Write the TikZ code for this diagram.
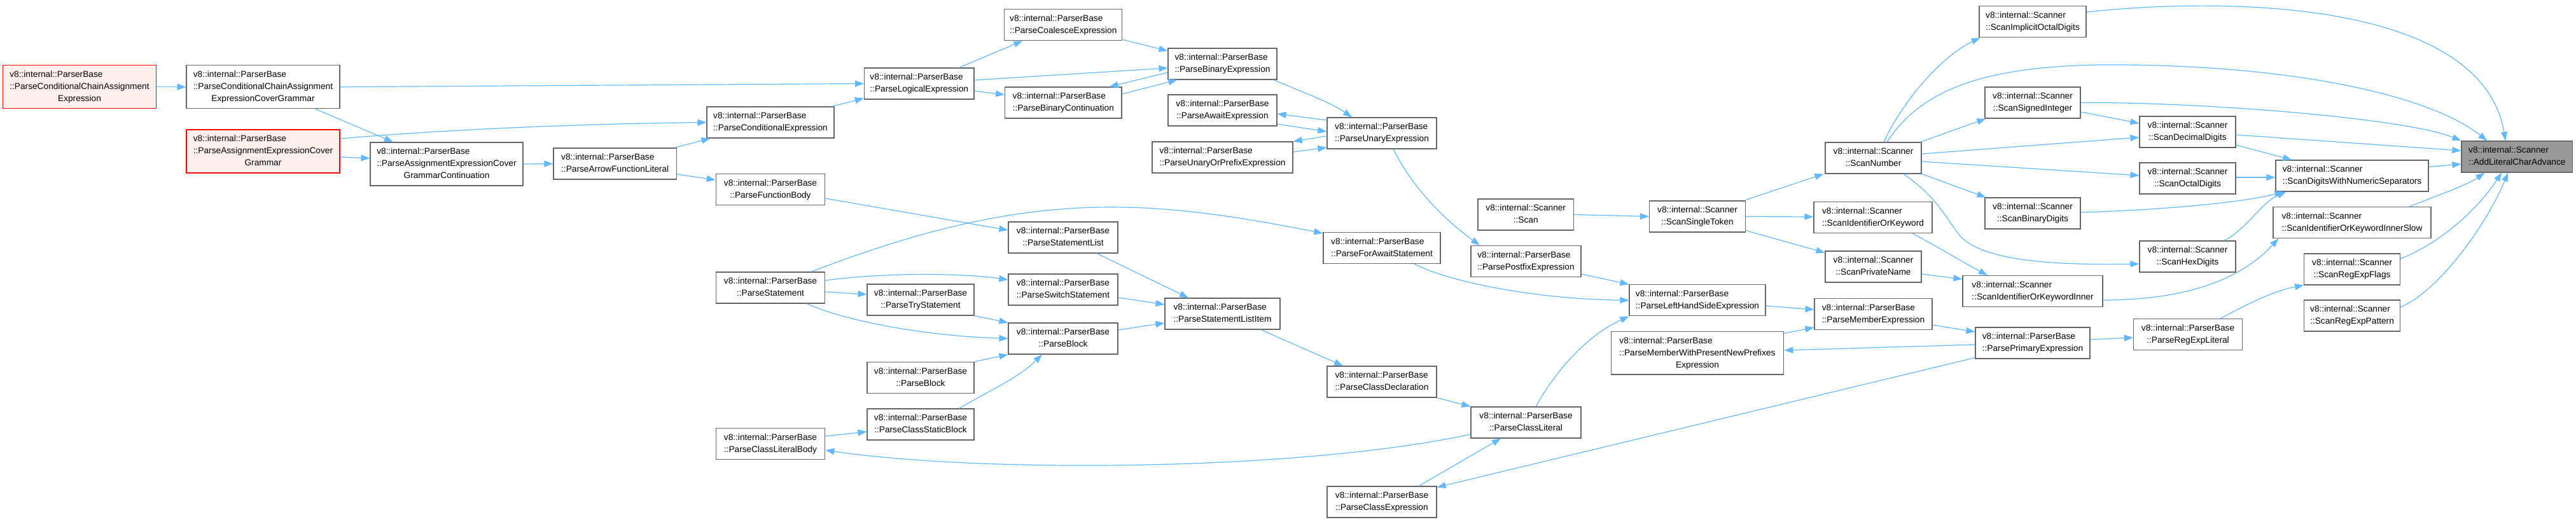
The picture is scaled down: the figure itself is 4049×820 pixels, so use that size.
\documentclass[tikz,border=0pt]{standalone}
\usepackage{fontspec}
\setmainfont{Liberation Sans}
\usetikzlibrary{arrows.meta,calc}
\definecolor{edgeblue}{HTML}{63B8FF}
\definecolor{boxgray}{HTML}{666666}
\definecolor{rootgray}{HTML}{999999}
\definecolor{pinkfill}{HTML}{FFF0F0}
\newcommand{\lbl}[2]{\begin{tabular}{@{}l@{}}#1\\\multicolumn{1}{@{}c@{}}{#2}\end{tabular}}
\newcommand{\lblt}[3]{\begin{tabular}{@{}l@{}}#1\\#2\\\multicolumn{1}{@{}c@{}}{#3}\end{tabular}}
\newcommand{\PB}[1]{\lbl{v8::internal::ParserBase}{::#1}}
\newcommand{\SC}[1]{\lbl{v8::internal::Scanner}{::#1}}
\tikzset{
  nb/.style={draw=boxgray, fill=white, line width=1.2pt, inner sep=0pt, minimum height=49, font=\fontsize{13.7}{19}\selectfont},
  nbt/.style={nb, minimum height=68},
  rednode/.style={draw=red, fill=pinkfill},
  rootnode/.style={fill=rootgray},
  edg/.style={draw=edgeblue, line width=1.2pt, -{Triangle[length=14pt,width=10pt]}},
}
\begin{document}
\begin{tikzpicture}[x=1pt,y=-1pt]
\useasboundingbox (0,0) rectangle (4049,820);
% nodes
\node[nbt,rednode,minimum width=241] (N1) at (125,136.7) {\lblt{v8::internal::ParserBase}{::ParseConditionalChainAssignment}{Expression}};
\node[nbt,minimum width=241] (N2) at (413.5,136.7) {\lblt{v8::internal::ParserBase}{::ParseConditionalChainAssignment}{ExpressionCoverGrammar}};
\node[nbt,rednode,minimum width=241] (N3) at (413.5,238) {\lblt{v8::internal::ParserBase}{::ParseAssignmentExpressionCover}{Grammar}};
\node[nbt,minimum width=240] (N4) at (702,258) {\lblt{v8::internal::ParserBase}{::ParseAssignmentExpressionCover}{GrammarContinuation}};
\node[nb,minimum width=193.5] (N5) at (966.7,257.5) {\PB{ParseArrowFunctionLiteral}};
\node[nb,minimum width=200] (N6) at (1211,192.5) {\PB{ParseConditionalExpression}};
\node[nb,minimum width=171.5] (N7) at (1211,298) {\PB{ParseFunctionBody}};
\node[nb,minimum width=172.5] (N8) at (1444.7,131.5) {\PB{ParseLogicalExpression}};
\node[nb,minimum width=185] (N9) at (1671.3,39.2) {\PB{ParseCoalesceExpression}};
\node[nb,minimum width=171] (N10) at (1921.5,100.5) {\PB{ParseBinaryExpression}};
\node[nb,minimum width=183.4] (N11) at (1671.3,161.5) {\PB{ParseBinaryContinuation}};
\node[nb,minimum width=171] (N12) at (1921.5,173.5) {\PB{ParseAwaitExpression}};
\node[nb,minimum width=221] (N13) at (1921.5,247.5) {\PB{ParseUnaryOrPrefixExpression}};
\node[nb,minimum width=172] (N14) at (1671,373.5) {\PB{ParseStatementList}};
\node[nb,minimum width=172] (N15) at (2172,209.5) {\PB{ParseUnaryExpression}};
\node[nb,minimum width=150.5] (N16) at (2398.2,337.5) {\SC{Scan}};
\node[nb,minimum width=151] (N17) at (2668,340.5) {\SC{ScanSingleToken}};
\node[nb,minimum width=184] (N18) at (2172,390) {\PB{ParseForAwaitStatement}};
\node[nb,minimum width=173] (N19) at (2398.5,411) {\PB{ParsePostfixExpression}};
\node[nb,minimum width=214] (N20) at (2668,472.3) {\PB{ParseLeftHandSideExpression}};
\node[nbt,minimum width=271.6,minimum height=67.3] (N21) at (2668,555.3) {\lblt{v8::internal::ParserBase}{::ParseMemberWithPresentNewPrefixes}{Expression}};
\node[nb,minimum width=172] (N22) at (2172,600.5) {\PB{ParseClassDeclaration}};
\node[nb,minimum width=173] (N23) at (2398.5,664.5) {\PB{ParseClassLiteral}};
\node[nb,minimum width=172] (N24) at (2172,789.5) {\PB{ParseClassExpression}};
\node[nb,minimum width=171.5] (N25) at (1211,452.5) {\PB{ParseStatement}};
\node[nb,minimum width=171.5] (N26) at (1211,698) {\PB{ParseClassLiteralBody}};
\node[nb,minimum width=172] (N27) at (1671,455.5) {\PB{ParseSwitchStatement}};
\node[nb,minimum width=168] (N28) at (1447,471.5) {\PB{ParseTryStatement}};
\node[nb,minimum width=172] (N29) at (1671,532.5) {\PB{ParseBlock}};
\node[nb,minimum width=181] (N30) at (1921.5,493.5) {\PB{ParseStatementListItem}};
\node[nb,minimum width=168] (N31) at (1447,594) {\PB{ParseBlock}};
\node[nb,minimum width=168] (N32) at (1447,667.5) {\PB{ParseClassStaticBlock}};
\node[nb,minimum width=168] (N33) at (3195,34) {\SC{ScanImplicitOctalDigits}};
\node[nb,minimum width=150] (N34) at (3195,161.5) {\SC{ScanSignedInteger}};
\node[nb,minimum width=151] (N35) at (2944.5,248.5) {\SC{ScanNumber}};
\node[nb,minimum width=151] (N36) at (3438.5,207.5) {\SC{ScanDecimalDigits}};
\node[nb,minimum width=151] (N37) at (3438.5,280.5) {\SC{ScanOctalDigits}};
\node[nb,minimum width=150] (N38) at (3195,335.5) {\SC{ScanBinaryDigits}};
\node[nb,minimum width=186] (N39) at (2944,342) {\SC{ScanIdentifierOrKeyword}};
\node[nb,minimum width=151] (N40) at (2944.5,419.5) {\SC{ScanPrivateName}};
\node[nb,minimum width=151] (N41) at (3438.5,403.5) {\SC{ScanHexDigits}};
\node[nb,minimum width=220] (N42) at (3195,458) {\SC{ScanIdentifierOrKeywordInner}};
\node[nb,minimum width=185] (N43) at (2944.5,494) {\PB{ParseMemberExpression}};
\node[nb,minimum width=180] (N44) at (3195,539.5) {\PB{ParsePrimaryExpression}};
\node[nb,minimum width=171] (N45) at (3439,526) {\PB{ParseRegExpLiteral}};
\node[nb,rootnode,minimum width=174.6] (N46) at (3956.3,246.5) {\SC{AddLiteralCharAdvance}};
\node[nb,minimum width=240] (N47) at (3697,276.5) {\SC{ScanDigitsWithNumericSeparators}};
\node[nb,minimum width=248] (N48) at (3697,350) {\SC{ScanIdentifierOrKeywordInnerSlow}};
\node[nb,minimum width=150.5] (N49) at (3697,423.5) {\SC{ScanRegExpFlags}};
\node[nb,minimum width=150.5] (N50) at (3697,496.5) {\SC{ScanRegExpPattern}};
% edges
\draw[edg] (N1.east) -- (N2.west);
\draw[edg] (N2.east) -- (N8.west);
\draw[edg] ($(N2.south)+(82,0)$) -- ($(N4.north)+(-84,0)$);
\draw[edg] ($(N3.east)+(0,-20)$) .. controls (700,204) and (900,195) .. (N6.west);
\draw[edg] ($(N3.east)+(0,9)$) -- ($(N4.west)+(0,-9)$);
\draw[edg] (N4.east) -- (N5.west);
\draw[edg] ($(N5.north east)+(-4,0)$) -- ($(N6.south west)+(6,0)$);
\draw[edg] ($(N6.north east)+(-4,0)$) -- ($(N8.south west)+(0,-2)$);
\draw[edg] ($(N5.east)+(0,16.5)$) -- ($(N7.west)+(0,-15)$);
\draw[edg] ($(N7.east)+(0,14)$) -- ($(N14.west)+(0,-11.5)$);
\draw[edg] ($(N25.north east)+(-22,0)$) .. controls (1615,296) and (1800,312) .. ($(N18.north west)+(0,2)$);
\draw[edg] ($(N25.east)+(0,-11.5)$) .. controls (1380,430) and (1500,428) .. ($(N27.west)+(0,-15.5)$);
\draw[edg] ($(N25.east)+(0,6.5)$) -- ($(N28.west)+(0,-8.5)$);
\draw[edg] ($(N25.south)+(57,0)$) .. controls (1330,505) and (1450,528) .. (N29.west);
\draw[edg] ($(N26.east)+(0,-12)$) -- ($(N32.west)+(0,11.5)$);
\draw[edg] ($(N23.west)+(0,18.5)$) .. controls (2050,740) and (1550,745) .. ($(N26.east)+(0,10)$);
\draw[edg] ($(N8.north east)+(-24,0)$) -- ($(N9.south west)+(29,0)$);
\draw[edg] ($(N8.east)+(0,-5.5)$) -- ($(N10.west)+(0,6.5)$);
\draw[edg] ($(N8.east)+(0,11.5)$) -- ($(N11.west)+(0,-12.5)$);
\draw[edg] ($(N9.south east)+(0,-2)$) -- ($(N10.west)+(0,-20.5)$);
\draw[edg] ($(N10.west)+(0,13.5)$) -- ($(N11.north east)+(-20,0)$);
\draw[edg] ($(N11.east)+(0,-13.5)$) -- ($(N10.south west)+(15,0)$);
\draw[edg] ($(N10.south east)+(-6,0)$) .. controls (2035,140) and (2090,160) .. ($(N15.north)+(-47,0)$);
\draw[edg] ($(N15.west)+(0,-20.5)$) -- ($(N12.east)+(0,5.5)$);
\draw[edg] ($(N12.east)+(0,21.5)$) -- ($(N15.west)+(0,-2.5)$);
\draw[edg] ($(N15.west)+(0,4.5)$) -- (N13.north east);
\draw[edg] ($(N13.east)+(0,-8.5)$) -- ($(N15.west)+(0,22.5)$);
\draw[edg] ($(N15.south)+(18,0)$) .. controls (2220,295) and (2270,345) .. ($(N19.north)+(-72.5,0)$);
\draw[edg] ($(N14.south)+(53,0)$) -- ($(N30.north)+(-53.5,0)$);
\draw[edg] ($(N27.east)+(0,12.5)$) -- ($(N30.west)+(0,-14.5)$);
\draw[edg] (N28.south east) -- (N29.north west);
\draw[edg] (N31.north east) -- (N29.south west);
\draw[edg] ($(N32.north)+(60.5,0)$) .. controls (1550,617) and (1600,595) .. ($(N29.south)+(-33,0)$);
\draw[edg] ($(N29.east)+(0,-13.5)$) -- ($(N30.west)+(0,14.5)$);
\draw[edg] ($(N30.south)+(60.5,0)$) -- ($(N22.north)+(-61,0)$);
\draw[edg] ($(N18.south)+(51,0)$) .. controls (2270,440) and (2400,470) .. (N20.west);
\draw[edg] ($(N19.east)+(0,20)$) -- (N20.north west);
\draw[edg] (N22.south east) -- (N23.north west);
\draw[edg] ($(N23.north)+(15.5,0)$) .. controls (2450,575) and (2500,525) .. (N20.south west);
\draw[edg] ($(N24.north)+(58,0)$) -- ($(N23.south)+(-39.5,0)$);
\draw[edg] ($(N44.south west)+(0,-2)$) -- ($(N24.north east)+(0,2)$);
\draw[edg] ($(N20.east)+(0,8.7)$) -- ($(N43.west)+(0,-7)$);
\draw[edg] ($(N21.north east)+(0,3.3)$) -- ($(N43.south west)+(0,-4)$);
\draw[edg] ($(N43.east)+(0,17)$) -- ($(N44.west)+(0,-17.5)$);
\draw[edg] ($(N44.west)+(0,2.5)$) -- ($(N21.east)+(0,-4.3)$);
\draw[edg] ($(N40.east)+(0,11.5)$) -- ($(N42.west)+(0,-19)$);
\draw[edg] ($(N39.south)+(62,0)$) .. controls (3040,385) and (3090,415) .. ($(N42.north)+(-71,0)$);
\draw[edg] ($(N44.east)+(0,-5.5)$) -- ($(N45.west)+(0,5)$);
\draw[edg] ($(N42.east)+(0,14)$) .. controls (3470,472) and (3540,420) .. ($(N48.south west)+(9,0)$);
\draw[edg] ($(N41.north east)+(-19,0)$) .. controls (3530,362) and (3555,318) .. ($(N47.south west)+(17,0)$);
\draw[edg] ($(N38.east)+(0,-1.5)$) .. controls (3380,331) and (3520,320) .. ($(N47.south west)+(13,0)$);
\draw[edg] ($(N37.east)+(0,-1.5)$) -- ($(N47.west)+(0,2.5)$);
\draw[edg] ($(N36.east)+(0,20.5)$) -- ($(N47.north west)+(26,0)$);
\draw[edg] ($(N33.east)+(0,-15)$) .. controls (3500,-5) and (3900,0) .. ($(N46.north)+(-18,0)$);
\draw[edg] ($(N35.north)+(21.5,0)$) .. controls (3020,140) and (3120,105) .. (3300,102) .. controls (3600,100) and (3820,150) .. ($(N46.north)+(-47,0)$);
\draw[edg] (N34.east) .. controls (3450,160) and (3780,185) .. (N46.north west);
\draw[edg] ($(N36.east)+(0,4.5)$) -- ($(N46.west)+(0,-9.5)$);
\draw[edg] ($(N47.east)+(0,-14)$) -- ($(N46.west)+(0,11.5)$);
\draw[edg] ($(N48.north)+(90,0)$) .. controls (3830,308) and (3880,290) .. ($(N46.south)+(-51,0)$);
\draw[edg] ($(N49.east)+(0,-16.5)$) .. controls (3830,385) and (3890,335) .. ($(N46.south)+(-24,0)$);
\draw[edg] ($(N50.east)+(0,-13.5)$) .. controls (3830,460) and (3905,360) .. ($(N46.south)+(-14,0)$);
\draw[edg] ($(N17.north east)+(0,-1)$) -- ($(N35.south west)+(-2,0)$);
\draw[edg] (N17.east) -- ($(N39.west)+(0,-1)$);
\draw[edg] ($(N17.south east)+(0,-3)$) -- ($(N40.north west)+(0,3)$);
\draw[edg] ($(N35.north)+(16.5,0)$) .. controls (2990,160) and (3050,90) .. ($(N33.south west)+(2,0)$);
\draw[edg] ($(N35.north east)+(-2,0)$) -- ($(N34.south west)+(2,0)$);
\draw[edg] ($(N34.east)+(0,14.5)$) -- ($(N36.west)+(0,-13.5)$);
\draw[edg] ($(N35.east)+(0,-6.5)$) -- ($(N36.west)+(0,8.5)$);
\draw[edg] ($(N35.east)+(0,5.5)$) -- ($(N37.west)+(0,-4.5)$);
\draw[edg] (N35.south east) -- ($(N38.north west)+(2,0)$);
\draw[edg] ($(N35.south)+(47.5,0)$) .. controls (3045,310) and (3060,345) .. (3080,370) .. controls (3110,405) and (3200,418) .. ($(N41.west)+(0,11.5)$);
\draw[edg] (N16.east) -- (N17.west);
\draw[edg] ($(N45.north)+(51,0)$) .. controls (3520,485) and (3570,458) .. (N49.south west);
\end{tikzpicture}
\end{document}
